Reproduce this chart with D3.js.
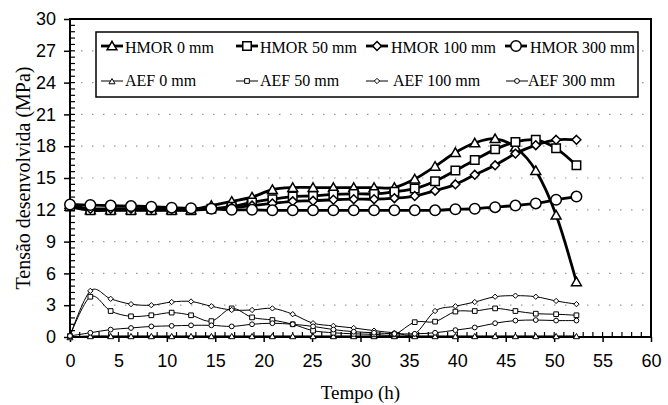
<!DOCTYPE html>
<html>
<head>
<meta charset="utf-8">
<script src="https://cdn.jsdelivr.net/npm/d3@7"></script>
<style>
  body { margin: 0; background: #fff; }
  svg { display: block; font-family: "Liberation Serif", "Times New Roman", serif; }
</style>
</head>
<body>
<div id="chart"></div>
<script>
// ---- data ----
const tempo = [0, 2.1, 4.2, 6.3, 8.4, 10.5, 12.5, 14.6, 16.7, 18.8, 20.9, 23.0, 25.1,
  27.2, 29.3, 31.4, 33.5, 35.6, 37.7, 39.8, 41.8, 43.9, 46.0, 48.1, 50.2, 52.3];

const hmor0 = [12.5, 12.0, 12.0, 12.0, 12.0, 12.0, 12.0, 12.4, 12.8, 13.2, 13.9, 14.1, 14.1,
  14.1, 14.1, 14.1, 14.1, 14.9, 16.1, 17.4, 18.3, 18.7, 17.9, 15.7, 11.5, 5.2];
const hmor50 = [12.3, 11.95, 11.95, 11.95, 11.95, 11.95, 11.95, 12.1, 12.3, 12.7, 13.0, 13.25, 13.3,
  13.45, 13.5, 13.5, 13.7, 14.0, 14.7, 15.7, 16.7, 17.7, 18.4, 18.6, 17.8, 16.2];
const hmor100 = [12.4, 12.1, 12.1, 12.1, 12.1, 12.1, 12.1, 12.1, 12.2, 12.4, 12.6, 12.8, 12.85,
  12.95, 13.0, 13.0, 13.1, 13.3, 13.8, 14.4, 15.3, 16.2, 17.3, 18.1, 18.6, 18.6];
const hmor300 = [12.5, 12.45, 12.4, 12.35, 12.3, 12.2, 12.15, 12.1, 12.0, 12.0, 11.95, 11.95, 11.95,
  11.95, 11.95, 11.95, 11.95, 11.95, 11.95, 12.05, 12.1, 12.25, 12.4, 12.6, 12.95, 13.25];

const aef0 = [0, 0.1, 0.1, 0.1, 0.1, 0.1, 0.1, 0.1, 0.1, 0.1, 0.1, 0.1, 0.1,
  0.1, 0.1, 0.1, 0.1, 0.1, 0.1, 0.1, 0.1, 0.1, 0.1, 0.1, 0.1, 0.1];
const aef50 = [0.1, 3.8, 2.45, 1.95, 2.05, 2.3, 2.05, 1.5, 2.7, 1.85, 1.6, 1.2, 0.6,
  0.4, 0.3, 0.25, 0.25, 1.4, 1.45, 2.4, 2.45, 2.7, 2.45, 2.2, 2.15, 2.05];
const aef100 = [0.1, 4.35, 3.6, 3.1, 3.0, 3.3, 3.35, 2.9, 2.55, 2.55, 2.7, 2.15, 1.3,
  1.05, 0.85, 0.6, 0.4, 0.3, 2.45, 2.9, 3.3, 3.8, 3.9, 3.8, 3.4, 3.1];
const aef300 = [0.1, 0.4, 0.7, 0.85, 1.0, 1.05, 1.1, 1.1, 1.0, 1.2, 1.3, 1.2, 1.0,
  0.7, 0.5, 0.4, 0.3, 0.3, 0.4, 0.65, 0.9, 1.3, 1.55, 1.6, 1.55, 1.55];

const xTicks = [0, 5, 10, 15, 20, 25, 30, 35, 40, 45, 50, 55, 60];
const yTicks = [0, 3, 6, 9, 12, 15, 18, 21, 24, 27, 30];

const seriesNames = ["HMOR 0 mm", "HMOR 50 mm", "HMOR 100 mm", "HMOR 300 mm",
  "AEF 0 mm", "AEF 50 mm", "AEF 100 mm", "AEF 300 mm"];

// ---- layout ----
const width = 668, height = 405;
const plotL = 70, plotR = 651, plotT = 19, plotB = 337;

const svg = d3.select("#chart").append("svg")
  .attr("width", width).attr("height", height);

const x = d3.scaleLinear().domain([0, 60]).range([plotL, plotR]);
const y = d3.scaleLinear().domain([0, 30]).range([plotB, plotT]);

// dotted gridlines
svg.append("g")
  .selectAll("line")
  .data(yTicks.filter(d => d > 0 && d < 30))
  .join("line")
  .attr("x1", plotL).attr("x2", plotR)
  .attr("y1", d => y(d)).attr("y2", d => y(d))
  .attr("stroke", "#9a9a9a")
  .attr("stroke-width", 1.2)
  .attr("stroke-dasharray", "1.5,9.5");

// frame
svg.append("rect")
  .attr("x", plotL).attr("y", plotT)
  .attr("width", plotR - plotL).attr("height", plotB - plotT)
  .attr("fill", "none").attr("stroke", "#000").attr("stroke-width", 2);

// y axis: major ticks outside, minor ticks inside
const yAxis = svg.append("g")
  .attr("transform", `translate(${plotL},0)`)
  .call(d3.axisLeft(y).tickValues(yTicks).tickSizeInner(6).tickSizeOuter(0).tickPadding(8));
yAxis.select(".domain").remove();
yAxis.selectAll("line").attr("stroke-width", 1.5);
yAxis.selectAll("text").style("font-size", "18px").attr("fill", "#000");

svg.append("g")
  .selectAll("line")
  .data(d3.range(0, 30.01, 0.6))
  .join("line")
  .attr("x1", plotL).attr("x2", plotL + 5)
  .attr("y1", d => y(d)).attr("y2", d => y(d))
  .attr("stroke", "#000").attr("stroke-width", 1.2);

// x axis
const xAxis = svg.append("g")
  .attr("transform", `translate(0,${plotB})`)
  .call(d3.axisBottom(x).tickValues(xTicks).tickSizeInner(5).tickSizeOuter(0).tickPadding(12));
xAxis.select(".domain").remove();
xAxis.selectAll("line").attr("stroke-width", 1.5);
xAxis.selectAll("text").style("font-size", "18px").attr("fill", "#000");

svg.append("g")
  .selectAll("line")
  .data(d3.range(0, 61, 1))
  .join("line")
  .attr("x1", d => x(d)).attr("x2", d => x(d))
  .attr("y1", plotB).attr("y2", plotB - 5)
  .attr("stroke", "#000").attr("stroke-width", 1.2);

// axis titles
svg.append("text")
  .attr("x", (plotL + plotR) / 2).attr("y", 399)
  .attr("text-anchor", "middle")
  .style("font-size", "19px")
  .text("Tempo (h)");

svg.append("text")
  .attr("transform", `translate(30,${(plotT + plotB) / 2}) rotate(-90)`)
  .attr("text-anchor", "middle")
  .style("font-size", "20px")
  .text("Tensão desenvolvida (MPa)");

// ---- series ----
const symbols = [d3.symbolTriangle, d3.symbolSquare, d3.symbolDiamond2, d3.symbolCircle];
const bigSize = [42, 72, 50, 86];
const smallSize = [16, 22, 18, 18];

const allSeries = [hmor0, hmor50, hmor100, hmor300, aef0, aef50, aef100, aef300];

const line = d3.line()
  .x((d, i) => x(tempo[i]))
  .y(d => y(d))
  .curve(d3.curveCardinal.tension(0));

const plot = svg.append("g");

allSeries.forEach((vals, k) => {
  const thick = k < 4;
  const sym = symbols[k % 4];
  const size = thick ? bigSize[k % 4] : smallSize[k % 4];
  const g = plot.append("g");
  g.append("path")
    .datum(vals)
    .attr("d", line)
    .attr("fill", "none")
    .attr("stroke", "#000")
    .attr("stroke-width", thick ? 2.8 : 1);
  g.selectAll("path.mk")
    .data(vals)
    .join("path")
    .attr("class", "mk")
    .attr("transform", (d, i) => `translate(${x(tempo[i])},${y(d) + (sym === d3.symbolTriangle ? 1 : 0)})`)
    .attr("d", d3.symbol(sym, size))
    .attr("fill", "#fff")
    .attr("stroke", "#000")
    .attr("stroke-width", thick ? 1.5 : 1);
});

// ---- legend ----
const legend = svg.append("g");
legend.append("rect")
  .attr("x", 96).attr("y", 32)
  .attr("width", 542).attr("height", 65)
  .attr("fill", "#fff").attr("stroke", "#000").attr("stroke-width", 1.5);

const legSymX = [101, 236, 366, 505, 101, 236, 366, 506];
const legTextX = [125, 260, 391, 530, 125, 260, 393, 528];
const legRowY = [46, 81];
const legBase = [53, 86];

seriesNames.forEach((name, k) => {
  const thick = k < 4;
  const sym = symbols[k % 4];
  const size = thick ? bigSize[k % 4] : smallSize[k % 4];
  const row = thick ? 0 : 1;
  const cy = legRowY[row];
  const sx = legSymX[k];
  legend.append("line")
    .attr("x1", sx).attr("x2", sx + 22)
    .attr("y1", cy).attr("y2", cy)
    .attr("stroke", "#000").attr("stroke-width", thick ? 2.8 : 1);
  legend.append("path")
    .attr("transform", `translate(${sx + 11},${cy + (sym === d3.symbolTriangle ? 1 : 0)})`)
    .attr("d", d3.symbol(sym, size))
    .attr("fill", "#fff").attr("stroke", "#000").attr("stroke-width", thick ? 1.5 : 1);
  legend.append("text")
    .attr("x", legTextX[k]).attr("y", legBase[row])
    .style("font-size", "16px")
    .text(name);
});
</script>
</body>
</html>
